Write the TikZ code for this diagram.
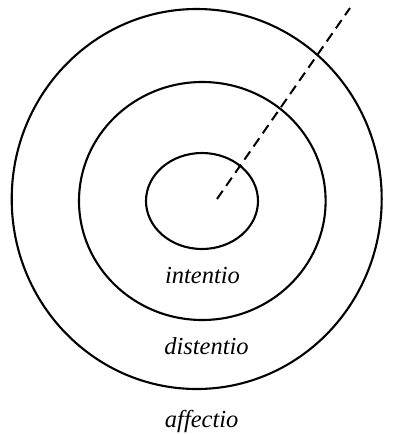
\documentclass[tikz,border=0pt]{standalone}
\usepackage{fontspec}
\setmainfont{Liberation Serif}
\begin{document}
\begin{tikzpicture}[x=1pt,y=-1pt,
  ring/.style={line width=2.1pt, black},
  ray/.style={line width=2pt, black, dash pattern=on 10pt off 6pt},
  lbl/.style={anchor=base, inner sep=0pt, font=\fontsize{24.5}{28}\selectfont\itshape}]
\useasboundingbox (0,0) rectangle (392,434);
\draw[ring] (196.7,199) ellipse [x radius=185, y radius=190];
\draw[ring] (202.3,201) ellipse [x radius=123.3, y radius=119];
\draw[ring] (202,201) ellipse [x radius=56, y radius=48];
\coordinate (rayStart) at (217,199);
\coordinate (rayEnd) at (350,8);
\draw[ray] (rayStart) -- (rayEnd);
\node[lbl] (intentio) at (202.5,283) {intentio};
\node[lbl] (distentio) at (206.5,354) {distentio};
\node[lbl] (affectio) at (201.7,427) {affectio};
\end{tikzpicture}
\end{document}
